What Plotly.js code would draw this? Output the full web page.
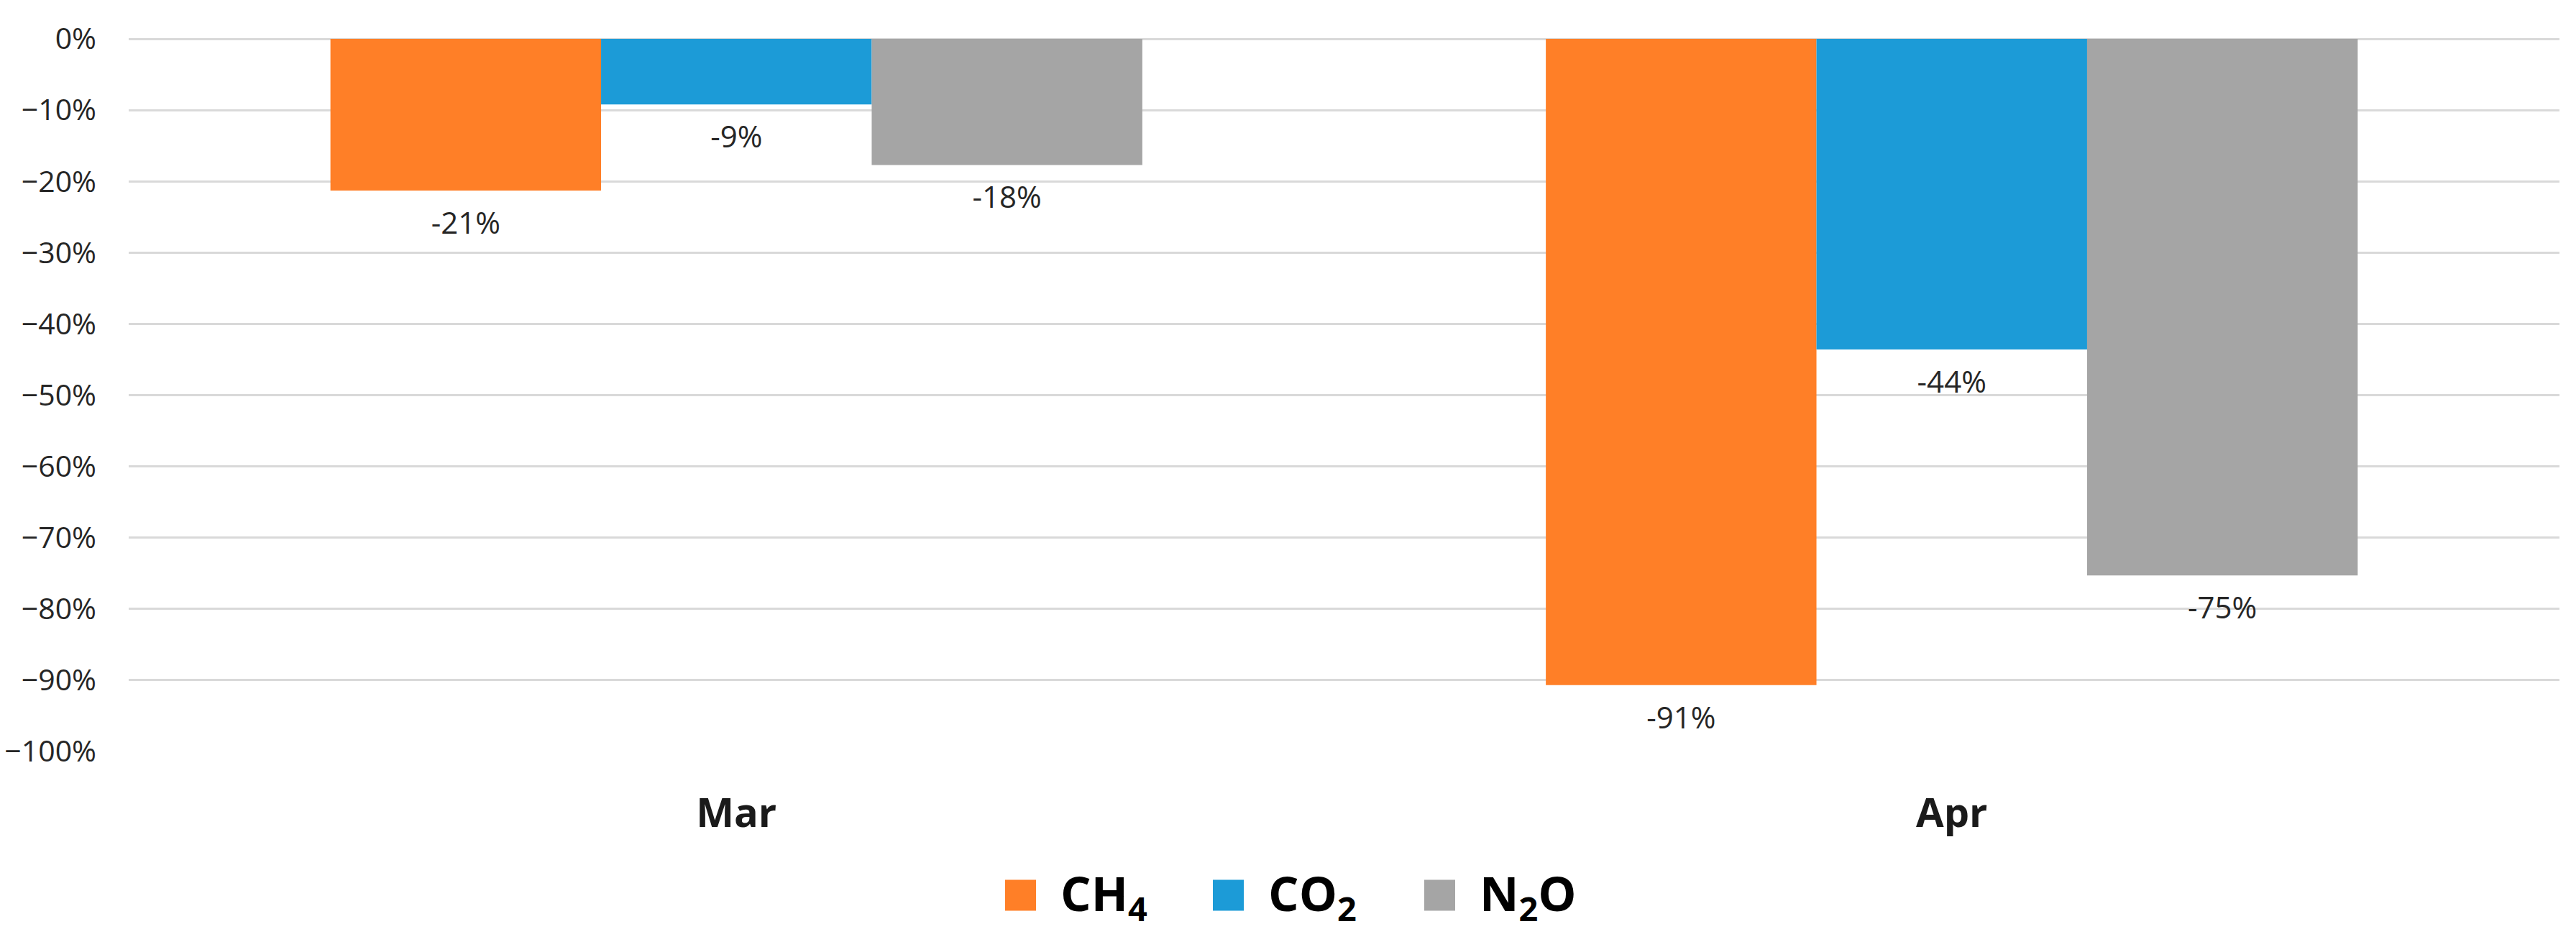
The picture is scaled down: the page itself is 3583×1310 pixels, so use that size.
<!DOCTYPE html>
<html>
<head>
<meta charset="utf-8">
<script src="https://cdn.plot.ly/plotly-3.0.1.min.js"></script>
<style>
  html, body { margin: 0; padding: 0; background: #ffffff; }
  #chart { width: 3583px; height: 1310px; }
</style>
</head>
<body>
<div id="chart"></div>
<script>
// ---- data ----
const months = ["Mar", "Apr"];
const seriesNames = ["CH<sub>4</sub>", "CO<sub>2</sub>", "N<sub>2</sub>O"];
const ch4 = [-0.213, -0.907];
const co2 = [-0.092, -0.436];
const n2o = [-0.177, -0.753];
const seriesColors = ["#FF7F27", "#1C9BD7", "#A5A5A5"];
const yTickVals = [0, -0.1, -0.2, -0.3, -0.4, -0.5, -0.6, -0.7, -0.8, -0.9, -1.0];

const seriesValues = [ch4, co2, n2o];
const FONT = "'Open Sans', 'Noto Sans', 'Liberation Sans', sans-serif";

// ---- figure geometry (pixels) ----
const W = 3583, H = 1310;
const M = { l: 179, r: 23, t: 54, b: 265 };
const plotW = W - M.l - M.r, plotH = H - M.t - M.b;
const px2x = px => (px - M.l) / plotW;           // page px -> paper x
const py2y = py => (H - M.b - py) / plotH;       // page px -> paper y

// legend layout (custom, so the swatches can be large squares)
const legendItemLeft = [1398, 1687, 1981];        // swatch left edges (page px)
const swatch = 43, swatchTextGap = 36, legendCenterY = 1245;

const barTraces = seriesValues.map((vals, i) => ({
  type: "bar",
  name: seriesNames[i],
  x: months,
  y: vals,
  marker: { color: seriesColors[i], line: { width: 0 } },
  showlegend: false,
  hoverinfo: "skip"
}));

// value labels: grouped scatter text aligned with the grouped bars
const labelTraces = seriesValues.map((vals, i) => ({
  type: "scatter",
  mode: "markers+text",
  name: seriesNames[i] + " label",
  x: months,
  y: vals,
  texttemplate: "%{y:.0%}",
  textposition: "bottom center",
  textfont: { family: FONT, size: 42, color: "#262626" },
  marker: { size: 44, opacity: 0, color: seriesColors[i] },
  cliponaxis: false,
  showlegend: false,
  hoverinfo: "skip"
}));

const shapes = seriesColors.map((c, i) => ({
  type: "rect",
  xref: "paper", yref: "paper",
  x0: px2x(legendItemLeft[i]), x1: px2x(legendItemLeft[i] + swatch),
  y0: py2y(legendCenterY + swatch / 2), y1: py2y(legendCenterY - swatch / 2),
  fillcolor: c,
  line: { width: 0 }
}));

const annotations = seriesNames.map((n, i) => ({
  xref: "paper", yref: "paper",
  x: px2x(legendItemLeft[i] + swatch + swatchTextGap - 4),
  y: py2y(legendCenterY),
  xanchor: "left", yanchor: "middle",
  text: "<b>" + n + "</b>",
  showarrow: false,
  font: { family: FONT, size: 67, color: "#000000" }
}));

const layout = {
  width: W,
  height: H,
  paper_bgcolor: "#ffffff",
  plot_bgcolor: "#ffffff",
  margin: { l: M.l, r: M.r, t: M.t, b: M.b, pad: 0 },
  barmode: "group",
  bargap: 0.332,
  bargroupgap: 0,
  scattermode: "group",
  scattergap: 0.332,
  font: { family: FONT, color: "#262626" },
  xaxis: {
    type: "category",
    showgrid: false,
    zeroline: false,
    showline: false,
    ticks: "",
    ticklabelstandoff: 48,
    tickfont: { family: FONT, size: 56, color: "#1a1a1a", weight: 700 }
  },
  yaxis: {
    range: [-1.0, 0],
    tickvals: yTickVals,
    tickformat: ".0%",
    showgrid: true,
    gridcolor: "#D9D9D9",
    gridwidth: 3,
    zeroline: true,
    zerolinecolor: "#D9D9D9",
    zerolinewidth: 3,
    showline: false,
    ticks: "",
    ticklabelstandoff: 44,
    tickfont: { family: FONT, size: 41, color: "#262626" }
  },
  showlegend: false,
  shapes: shapes,
  annotations: annotations
};

Plotly.newPlot("chart", barTraces.concat(labelTraces), layout, { staticPlot: true, displayModeBar: false });
</script>
</body>
</html>
